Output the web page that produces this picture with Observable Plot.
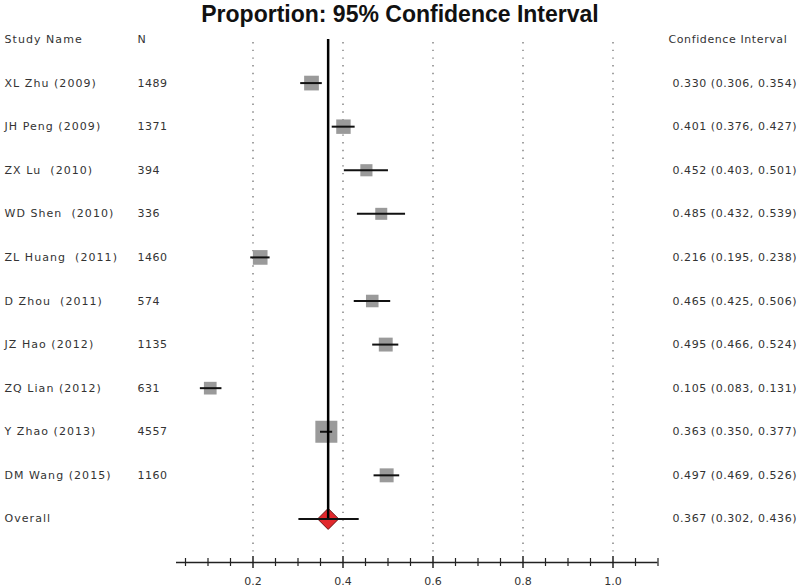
<!DOCTYPE html>
<html><head><meta charset="utf-8">
<script src="https://cdn.jsdelivr.net/npm/d3@7"></script>
<script src="https://cdn.jsdelivr.net/npm/@observablehq/plot@0.6"></script>
<style>
body{margin:0;background:#fff;}
#wrap{position:relative;width:800px;height:588px;overflow:hidden;}
#title{position:absolute;left:0;top:2.5px;width:800px;text-align:center;font:bold 23px "Liberation Sans",Arial,sans-serif;color:#111;line-height:22px;}
</style></head><body>
<div id="wrap"><div id="title">Proportion: 95% Confidence Interval</div></div>
<script>
const studies = ["XL Zhu (2009)","JH Peng (2009)","ZX Lu  (2010)","WD Shen  (2010)","ZL Huang  (2011)","D Zhou  (2011)","JZ Hao (2012)","ZQ Lian (2012)","Y Zhao (2013)","DM Wang (2015)"];
const sampleN = [1489, 1371, 394, 336, 1460, 574, 1135, 631, 4557, 1160];
const estimate = [0.330, 0.401, 0.452, 0.485, 0.216, 0.465, 0.495, 0.105, 0.363, 0.497];
const lower = [0.306, 0.376, 0.403, 0.432, 0.195, 0.425, 0.466, 0.083, 0.350, 0.469];
const upper = [0.354, 0.427, 0.501, 0.539, 0.238, 0.506, 0.524, 0.131, 0.377, 0.526];
const overallLabel = "Overall";
const overallEst = 0.367, overallLo = 0.302, overallHi = 0.436;
const headers = ["Study Name", "N", "Confidence Interval"];
const majorTicks = [0.2, 0.4, 0.6, 0.8, 1.0];
const tickLabels = ["0.2", "0.4", "0.6", "0.8", "1.0"];
const minorTicks = [0.05, 0.1, 0.15, 0.25, 0.3, 0.35, 0.45, 0.5, 0.55, 0.65, 0.7, 0.75, 0.85, 0.9, 0.95, 1.05, 1.1];
const axisExtent = [0.03, 1.1];

const fmt = v => v.toFixed(3);
const table = studies.map((s, i) => ({name: s, n: sampleN[i], est: estimate[i], lo: lower[i], hi: upper[i], row: i + 1}));
const overall = [{name: overallLabel, est: overallEst, lo: overallLo, hi: overallHi, row: studies.length + 1}];
const axisRow = studies.length + 2;
const ciText = d => `${fmt(d.est)} (${fmt(d.lo)}, ${fmt(d.hi)})`;

const diamond = {
  draw(ctx, size) {
    const s = Math.sqrt(size / Math.PI);
    ctx.moveTo(0, -s); ctx.lineTo(s, 0); ctx.lineTo(0, s); ctx.lineTo(-s, 0); ctx.closePath();
  }
};
const sq = Math.sqrt(Math.PI);
const FONT = "DejaVu Sans";
const txt = {fill: "#333", fontSize: 11, fontFamily: FONT, textAnchor: "start"};

const chart = Plot.plot({
  width: 800,
  height: 588,
  marginLeft: 176,
  marginRight: 142.5,
  marginTop: 39,
  marginBottom: 26,
  x: {domain: axisExtent, axis: null},
  y: {domain: [axisRow, 0], axis: null},
  r: {type: "linear", domain: [336, 4557], range: [12 / sq, 22 / sq]},
  style: {fontFamily: FONT, fontSize: "11px", background: "#fff"},
  marks: [
    Plot.ruleX(majorTicks, {x: d => d, y1: 0, y2: axisRow, insetTop: 3, insetBottom: 8, stroke: "#8c8c8c", strokeWidth: 1.6, strokeDasharray: "1.4,6.3"}),
    Plot.dot(table, {x: "est", y: "row", r: "n", symbol: "square", fill: "#9a9a9a", stroke: "none"}),
    Plot.ruleY(table, {x1: "lo", x2: "hi", y: "row", stroke: "#111", strokeWidth: 2}),
    Plot.dot(overall, {x: "est", y: "row", r: 10.5, symbol: diamond, fill: "#e2282c", stroke: "#6b1414", strokeWidth: 1}),
    Plot.ruleX(overall, {x: "est", y1: 0, y2: "row", stroke: "#000", strokeWidth: 2.5}),
    Plot.ruleY(overall, {x1: "lo", x2: "hi", y: "row", stroke: "#111", strokeWidth: 2}),
    Plot.ruleY([axisRow], {y: d => d, x1: axisExtent[0], x2: axisExtent[1], stroke: "#222", strokeWidth: 1.5}),
    Plot.ruleX(majorTicks, {x: d => d, y1: axisRow, y2: axisRow, insetTop: -6, insetBottom: -6, stroke: "#222", strokeWidth: 1.5}),
    Plot.ruleX(minorTicks, {x: d => d, y1: axisRow, y2: axisRow, insetTop: -4, insetBottom: -4, stroke: "#222", strokeWidth: 1.2}),
    Plot.text(majorTicks, {x: d => d, y: axisRow, text: (d, i) => tickLabels[i], dy: 19, fill: "#333", fontSize: 11, fontFamily: FONT}),
    Plot.text([headers[0]], {...txt, y: 0, text: d => d, frameAnchor: "left", dx: -172}),
    Plot.text([headers[1]], {...txt, y: 0, text: d => d, frameAnchor: "left", dx: -39}),
    Plot.text([headers[2]], {...txt, y: 0, text: d => d, frameAnchor: "right", dx: 10.5}),
    Plot.text(table.concat(overall), {...txt, y: "row", text: "name", frameAnchor: "left", dx: -172}),
    Plot.text(table, {...txt, y: "row", text: d => String(d.n), frameAnchor: "left", dx: -39}),
    Plot.text(table.concat(overall), {...txt, y: "row", text: ciText, frameAnchor: "right", dx: 14.5})
  ]
});
// letter spacing for the text columns, which are set wider in the reference
const names = new Set(table.concat(overall).map(d => d.name).concat([headers[0]]));
const ns = new Set(sampleN.map(String));
const cis = new Set(table.concat(overall).map(ciText));
chart.querySelectorAll("text").forEach(t => {
  const s = t.textContent;
  if (names.has(s)) t.setAttribute("letter-spacing", "1.05px");
  else if (s === headers[2]) t.setAttribute("letter-spacing", "0.6px");
  else if (ns.has(s)) t.setAttribute("letter-spacing", "0.5px");
  else if (cis.has(s)) t.setAttribute("letter-spacing", "0.55px");
});
chart.style.position = "absolute";
chart.style.left = "0";
chart.style.top = "0";
const wrap = document.getElementById("wrap");
wrap.insertBefore(chart, wrap.firstChild);
</script>
</body></html>
